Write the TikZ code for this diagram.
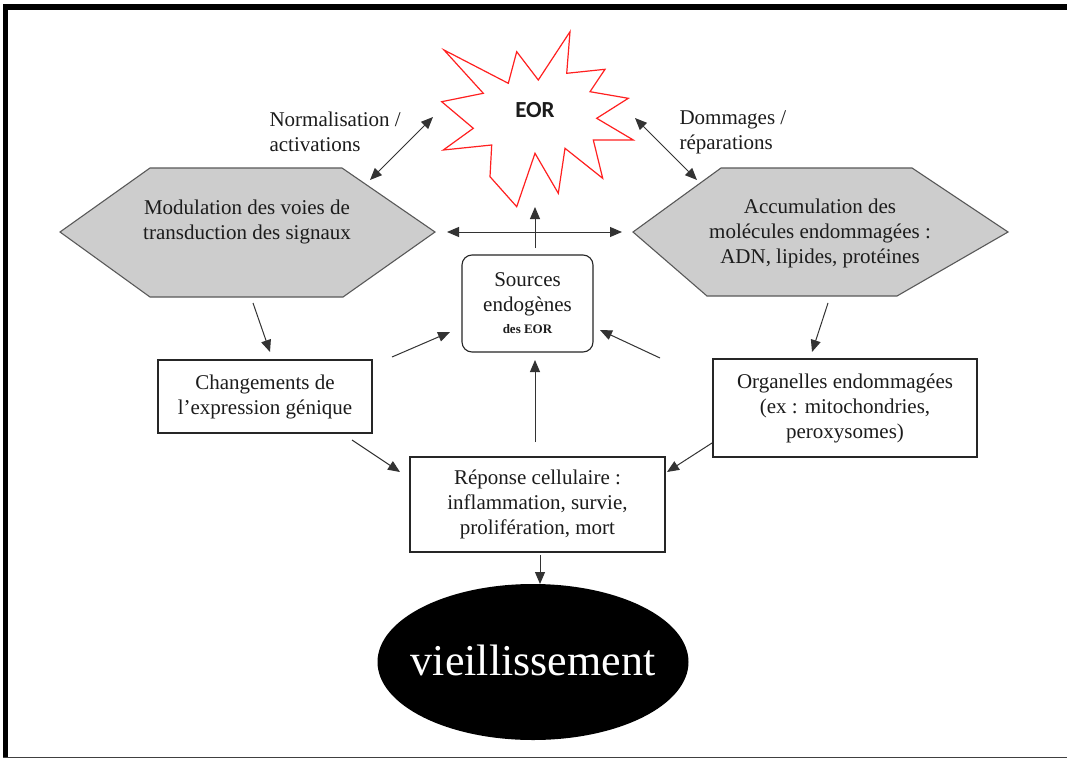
\documentclass[tikz,border=0pt]{standalone}
\usepackage{fontspec}
\setmainfont{Liberation Serif}
\newfontfamily\calibri{Carlito}
\usetikzlibrary{arrows.meta,shapes.geometric}
\definecolor{burst}{HTML}{FF2020}
\definecolor{hexfill}{HTML}{CDCDCD}
\definecolor{ink}{HTML}{1C1C1C}
\begin{document}
\begin{tikzpicture}[x=1pt,y=-1pt,
  txt/.style={font=\fontsize{21}{25}\selectfont, align=center, text=ink},
  box/.style={draw=black!85, line width=1.1pt, fill=white, inner sep=0pt},
  hexa/.style={fill=hexfill, draw=black!65, line width=1.1pt},
  arr/.style={draw=black!80, line width=1pt, -{Triangle[length=12pt,width=10pt]}},
  darr/.style={draw=black!80, line width=1pt, {Triangle[length=12pt,width=10pt]}-{Triangle[length=12pt,width=10pt]}},
]
\useasboundingbox (0,0) rectangle (1067,760);
\fill[white] (0,0) rectangle (1067,760);

% frame
\fill[black] (3,4) rectangle (1067,10);
\fill[black] (3,4) rectangle (8,758);
\draw[black!75, line width=1pt] (3,757.5) -- (1067,757.5);

% explosion shape
\draw[burst, line width=1.2pt, fill=white, line join=miter]
  (444,50) -- (508.3,83.3) -- (516.7,51.7) -- (538.3,80) -- (570,31.7)
  -- (566.7,73.3) -- (605,69.3) -- (590,91.7) -- (628.3,98.3)
  -- (596.7,118.3) -- (633.3,140) -- (593.3,140) -- (602.7,178.3)
  -- (565,148.3) -- (558.3,193.3) -- (535,153.3) -- (516.7,206.7)
  -- (490,176.7) -- (491.7,145) -- (443.3,150) -- (473.3,128.3)
  -- (441.7,101.7) -- (483.3,93.3) -- cycle;
\node[font=\calibri\bfseries\fontsize{23}{26}\selectfont, text=ink] (eor) at (535,110) {EOR};

% hexagons
\draw[hexa] (60,232) -- (150,168) -- (342,168) -- (435,232) -- (343,297) -- (150,297) -- cycle;
\node[txt] (mod) at (247,222) {Modulation des voies de\\transduction des signaux};
\draw[hexa] (633,232) -- (721,168) -- (912,168) -- (1008,232) -- (897,296) -- (707,296) -- cycle;
\node[txt] (acc) at (820,233) {Accumulation des\\molécules endommagées :\\ADN, lipides, protéines};

% side labels
\node[txt, align=left, anchor=west] (norm) at (266,132) {Normalisation /\\activations};
\node[txt, align=left, anchor=west] (dom) at (676,132) {Dommages /\\réparations};

% boxes
\node[box, rounded corners=10pt, minimum width=131pt, minimum height=97pt] (src) at (527.5,303.5) {};
\node[txt] (srctxt) at (527.5,303) {Sources\\endogènes\\[-3pt]{\fontsize{13}{15}\selectfont\bfseries des EOR}};
\node[box, txt, minimum width=214pt, minimum height=73pt] (chg) at (265,396.5) {Changements de\\l’expression génique};
\node[box, txt, minimum width=255pt, minimum height=95pt] (rep) at (537.5,504.5) {Réponse cellulaire :\\inflammation, survie,\\prolifération, mort};
\node[box, txt, minimum width=264pt, minimum height=98pt] (org) at (845,408) {Organelles endommagées\\(ex : mitochondries,\\peroxysomes)};

% ageing
\node[ellipse, fill=black, minimum width=311pt, minimum height=156pt, inner sep=0pt] (age) at (533,662) {};
\node[text=white, font=\fontsize{44}{48}\selectfont] (agetxt) at (533,660) {vieillissement};

% connector end points
\coordinate (modNE) at (370,180);
\coordinate (eorW) at (433,117);
\coordinate (accNW) at (697,180);
\coordinate (eorE) at (635,118);
\coordinate (modE) at (447,232);
\coordinate (accW) at (622,232);
\coordinate (srcN) at (535,248);
\coordinate (eorS) at (535,207);
\coordinate (modS) at (253,303);
\coordinate (chgN) at (270,352);
\coordinate (chgNE) at (392,357);
\coordinate (srcW) at (450,332);
\coordinate (orgNW) at (660,358);
\coordinate (srcE) at (600,330);
\coordinate (repN) at (535,442);
\coordinate (srcS) at (535,360);
\coordinate (chgSE) at (352,440);
\coordinate (repW) at (400,472);
\coordinate (accS) at (828,303);
\coordinate (orgN) at (812,352);
\coordinate (orgSW) at (712,443);
\coordinate (repE) at (667,472);
\coordinate (repS) at (540,555);
\coordinate (ageN) at (540,584);

% connectors
\draw[darr] (modNE) -- (eorW);
\draw[darr] (accNW) -- (eorE);
\draw[darr] (modE) -- (accW);
\draw[arr] (srcN) -- (eorS);
\draw[arr] (modS) -- (chgN);
\draw[arr] (chgNE) -- (srcW);
\draw[arr] (orgNW) -- (srcE);
\draw[arr] (repN) -- (srcS);
\draw[arr] (chgSE) -- (repW);
\draw[arr] (accS) -- (orgN);
\draw[arr] (orgSW) -- (repE);
\draw[arr] (repS) -- (ageN);
\end{tikzpicture}
\end{document}
